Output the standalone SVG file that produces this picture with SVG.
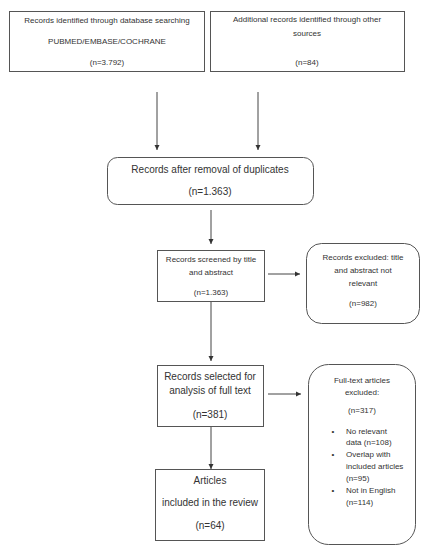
<svg xmlns="http://www.w3.org/2000/svg" width="429" height="550" viewBox="0 0 429 550">
<style>
.box{fill:#fff;stroke:#555;stroke-width:1}
.t{font-family:"Liberation Sans",Arial,sans-serif;fill:#333;text-anchor:middle}
.s8{font-size:8px}
.s9{font-size:9px}
.s10{font-size:10px}
.s11{font-size:11px}
.l{text-anchor:start}
.c{stroke:#444;stroke-width:1;fill:none;marker-end:url(#ah)}
</style>
<defs>
<marker id="ah" markerWidth="6" markerHeight="6" refX="5" refY="3" orient="auto" markerUnits="userSpaceOnUse">
<path d="M0,0.5 L5,3 L0,5.5 Z" fill="#333"/>
</marker>
</defs>
<rect width="429" height="550" fill="#fff"/>
<g id="connectors">
<line class="c" x1="157" y1="92" x2="157" y2="150"/>
<line class="c" x1="258" y1="92" x2="258" y2="150"/>
<line class="c" x1="211" y1="210" x2="211" y2="244"/>
<line class="c" x1="268" y1="274" x2="300" y2="274"/>
<line class="c" x1="211" y1="301" x2="211" y2="361"/>
<line class="c" x1="268" y1="394" x2="301" y2="394"/>
<line class="c" x1="211" y1="426" x2="211" y2="469"/>
</g>
<g id="n1">
<rect class="box" x="9.5" y="11.5" width="195" height="60"/>
<text class="t s8" x="107" y="23">Records identified through database searching</text>
<text class="t s8" x="107" y="44">PUBMED/EMBASE/COCHRANE</text>
<text class="t s8" x="107" y="65">(n=3.792)</text>
</g>
<g id="n2">
<rect class="box" x="210.5" y="11.5" width="194" height="60"/>
<text class="t s8" x="307" y="22">Additional records identified through other</text>
<text class="t s8" x="307" y="36">sources</text>
<text class="t s8" x="307" y="65">(n=84)</text>
</g>
<g id="n3">
<rect class="box" x="107.5" y="157.5" width="206" height="47" rx="10"/>
<text class="t s10" x="210" y="173">Records after removal of duplicates</text>
<text class="t s10" x="210" y="195">(n=1.363)</text>
</g>
<g id="n4">
<rect class="box" x="157.5" y="250.5" width="107" height="51"/>
<text class="t s8" x="211" y="262">Records screened by title</text>
<text class="t s8" x="211" y="275">and abstract</text>
<text class="t s8" x="211" y="295">(n=1.363)</text>
</g>
<g id="n5">
<rect class="box" x="306.5" y="243.5" width="113" height="80" rx="15"/>
<text class="t s8" x="363" y="260">Records excluded: title</text>
<text class="t s8" x="363" y="273">and abstract not</text>
<text class="t s8" x="363" y="286">relevant</text>
<text class="t s8" x="363" y="306">(n=982)</text>
</g>
<g id="n6">
<rect class="box" x="157.5" y="365.5" width="106" height="61"/>
<text class="t s10" x="210" y="380">Records selected for</text>
<text class="t s10" x="210" y="394">analysis of full text</text>
<text class="t s10" x="210" y="418">(n=381)</text>
</g>
<g id="n7">
<rect class="box" x="308.5" y="364.5" width="107" height="180" rx="20"/>
<text class="t s8" x="362" y="383">Full-text articles</text>
<text class="t s8" x="362" y="395">excluded:</text>
<text class="t s8" x="362" y="413">(n=317)</text>
<g class="t s8">
<text class="t s8" x="333" y="434">•</text>
<text class="t s8 l" x="346" y="434">No relevant</text>
<text class="t s8 l" x="346" y="445">data (n=108)</text>
<text class="t s8" x="333" y="457">•</text>
<text class="t s8 l" x="346" y="457">Overlap with</text>
<text class="t s8 l" x="346" y="469">included articles</text>
<text class="t s8 l" x="346" y="481">(n=95)</text>
<text class="t s8" x="333" y="493">•</text>
<text class="t s8 l" x="346" y="493">Not in English</text>
<text class="t s8 l" x="346" y="505">(n=114)</text>
</g>
</g>
<g id="n8">
<rect class="box" x="155.5" y="469.5" width="109" height="71"/>
<text class="t s10" x="210" y="484">Articles</text>
<text class="t s10" x="210" y="506">included in the review</text>
<text class="t s10" x="210" y="529">(n=64)</text>
</g>
</svg>
